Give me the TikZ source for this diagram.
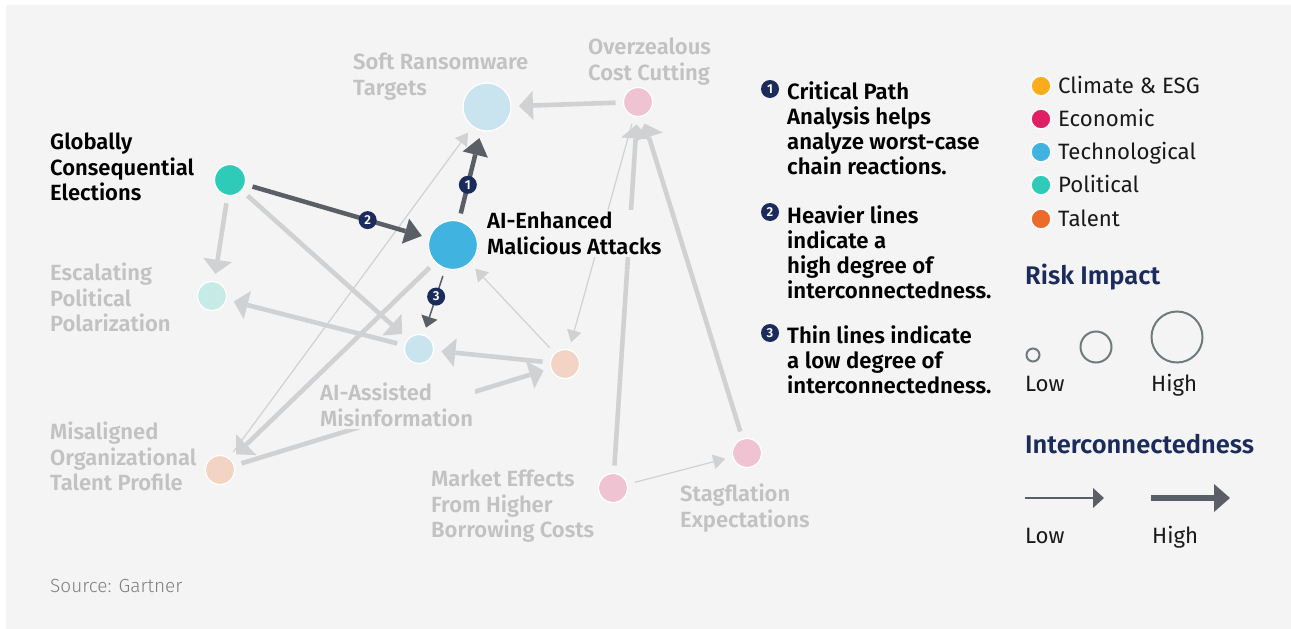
\documentclass[tikz,border=0pt]{standalone}
\usepackage{fontspec}
\setmainfont{Fira Sans}[BoldFont={Fira Sans SemiBold}]
\newfontfamily\lightfont{Fira Sans Light}
\usetikzlibrary{arrows.meta}
\definecolor{panel}{HTML}{F4F4F4}
\definecolor{faintc}{HTML}{D0D1D3}
\definecolor{keyc}{HTML}{5A5F67}
\definecolor{navy}{HTML}{1B2B5B}
\definecolor{greytext}{HTML}{C2C2C2}
\definecolor{srcc}{HTML}{7F7F7F}
\definecolor{techpale}{HTML}{CAE4EF}
\definecolor{econpale}{HTML}{EFC3D1}
\definecolor{polpale}{HTML}{C6EAE6}
\definecolor{talpale}{HTML}{F2D3C4}
\definecolor{climate}{HTML}{FBAC1C}
\definecolor{econ}{HTML}{DF2063}
\definecolor{tech}{HTML}{40B3E0}
\definecolor{pol}{HTML}{2ECBB9}
\definecolor{talent}{HTML}{EC6A2A}
\definecolor{ringc}{HTML}{6F7B7B}
\tikzset{
  risk/.style={circle, draw=white, line width=1.2pt, inner sep=0pt, outer sep=8pt, minimum size=29pt},
  faint/.style={draw=faintc, line width=4.6pt, -{Triangle[length=14pt,width=29pt,line width=0pt]}},
  faintthin/.style={draw=faintc, line width=1.2pt, -{Triangle[length=12pt,width=15pt,line width=0pt]}},
  key/.style={draw=keyc, line width=4.5pt, -{Triangle[length=17pt,width=26pt,line width=0pt]}},
  keythin/.style={draw=keyc, line width=1.5pt, -{Triangle[length=11pt,width=17pt,line width=0pt]}},
  badge/.style={circle, fill=navy, text=white, inner sep=0pt, minimum size=18pt, font=\fontsize{13}{13}\selectfont\bfseries},
  riskname/.style={anchor=north west, align=left, inner sep=2pt, text=greytext, font=\fontsize{22}{25.5}\selectfont\bfseries},
  masked/.style={fill=panel},
  note/.style={anchor=north west, align=left, inner sep=2pt, text=black, font=\fontsize{22.2}{25.3}\selectfont\bfseries},
  legtext/.style={anchor=base west, inner sep=0pt, text=black!90, font=\fontsize{22.2}{24}\selectfont},
  legdot/.style={circle, draw=white, line width=1.5pt, inner sep=0pt, minimum size=20pt},
  heading/.style={anchor=base west, inner sep=0pt, text=navy, font=\fontsize{25.5}{28}\selectfont\bfseries},
  size/.style={circle, draw=ringc, line width=2pt, inner sep=0pt}
}
\begin{document}
\begin{tikzpicture}[x=1pt, y=-1pt]
\useasboundingbox (0,0) rectangle (1291,629);
\fill[panel] (6,5) rectangle (1291,629);

\node[risk, fill=techpale, minimum size=48pt] (srt) at (487,107) {};
\node[risk, fill=econpale] (occ) at (638,102) {};
\node[risk, fill=pol, minimum size=31pt] (gce) at (230,180) {};
\node[risk, fill=tech, minimum size=49pt] (aim) at (453,245) {};
\node[risk, fill=polpale] (epp) at (212,296) {};
\node[risk, fill=techpale] (aam) at (419,349) {};
\node[risk, fill=talpale] (pch) at (565,364) {};
\node[risk, fill=talpale] (mot) at (220,470) {};
\node[risk, fill=econpale] (meb) at (613,488) {};
\node[risk, fill=econpale] (sge) at (747,453) {};

\draw[faint] (occ) -- (srt);
\draw[faint] (gce) -- (epp);
\draw[faint] (gce) -- (aam);
\draw[faint] (aim) -- (mot);
\draw[faint] (aam) -- (epp);
\draw[faint] (pch) -- (aam);
\draw[faint] (mot) -- (pch);
\draw[faint] (meb) -- (occ);
\draw[faint] (sge) -- (occ);
\draw[faintthin] (mot) -- (srt);
\draw[faintthin] (pch) -- (aim);
\draw[faintthin] (occ) -- (pch);
\draw[faintthin] (meb) -- (sge);
\draw[key] (gce) -- node[badge, pos=0.68] {2} (aim);
\draw[key] (aim) -- node[badge, pos=0.38] {1} (srt);
\draw[keythin] (aim) -- node[badge, pos=0.4] {3} (aam);

\node[riskname] (srtlabel) at (351,51) {Soft Ransomware\\Targets};
\node[riskname] (occlabel) at (586,36) {Overzealous\\Cost Cutting};
\node[riskname, text=black] (gcelabel) at (48,131) {Globally\\Consequential\\Elections};
\node[riskname, masked, text=black] (aimlabel) at (485,210) {AI-Enhanced\\Malicious Attacks};
\node[riskname] (epplabel) at (48,261) {Escalating\\Political\\Polarization};
\node[riskname, masked] (aamlabel) at (318,381) {AI-Assisted\\Misinformation};
\node[riskname] (motlabel) at (48,420) {Misaligned\\Organizational\\Talent Profile};
\node[riskname] (meblabel) at (429,468) {Market Effects\\From Higher\\Borrowing Costs};
\node[riskname] (sgelabel) at (678,482) {Stagflation\\Expectations};
\node[anchor=base west, inner sep=0pt, text=srcc, font=\fontsize{19}{22}\selectfont\lightfont] (source) at (50,592) {Source: Gartner};

\node[badge] (b1) at (770,89) {1};
\node[note] (n1) at (785,79) {Critical Path\\Analysis helps\\analyze worst-case\\chain reactions.};
\node[badge] (b2) at (770,212) {2};
\node[note] (n2) at (785,203) {Heavier lines\\indicate a\\high degree of\\interconnectedness.};
\node[badge] (b3) at (770,333) {3};
\node[note] (n3) at (785,323) {Thin lines indicate\\a low degree of\\interconnectedness.};

\node[legdot, fill=climate] (d1) at (1041,86) {};
\node[legtext] (t1) at (1058,93) {Climate \& ESG};
\node[legdot, fill=econ] (d2) at (1041,119) {};
\node[legtext] (t2) at (1058,126) {Economic};
\node[legdot, fill=tech] (d3) at (1041,152) {};
\node[legtext] (t3) at (1058,159) {Technological};
\node[legdot, fill=pol] (d4) at (1041,185) {};
\node[legtext] (t4) at (1058,192) {Political};
\node[legdot, fill=talent] (d5) at (1041,219) {};
\node[legtext] (t5) at (1058,226) {Talent};

\node[heading] (impact) at (1025,284) {Risk Impact};
\node[size, minimum size=13pt] (s1) at (1033,355) {};
\node[size, minimum size=31pt] (s2) at (1096,347) {};
\node[size, minimum size=51pt] (s3) at (1177,337) {};
\node[legtext] (lo1) at (1025,391) {Low};
\node[legtext] (hi1) at (1151,391) {High};

\node[heading] (inter) at (1025,453) {Interconnectedness};
\coordinate (a1) at (1025,498);
\coordinate (a2) at (1104,498);
\coordinate (a3) at (1151,498);
\coordinate (a4) at (1230,498);
\draw[draw=keyc, line width=2pt, -{Triangle[length=11pt,width=20pt,line width=0pt]}] (a1) -- (a2);
\draw[draw=keyc, line width=5.5pt, -{Triangle[length=16pt,width=28pt,line width=0pt]}] (a3) -- (a4);
\node[legtext] (lo2) at (1025,543) {Low};
\node[legtext] (hi2) at (1152,543) {High};
\end{tikzpicture}
\end{document}
